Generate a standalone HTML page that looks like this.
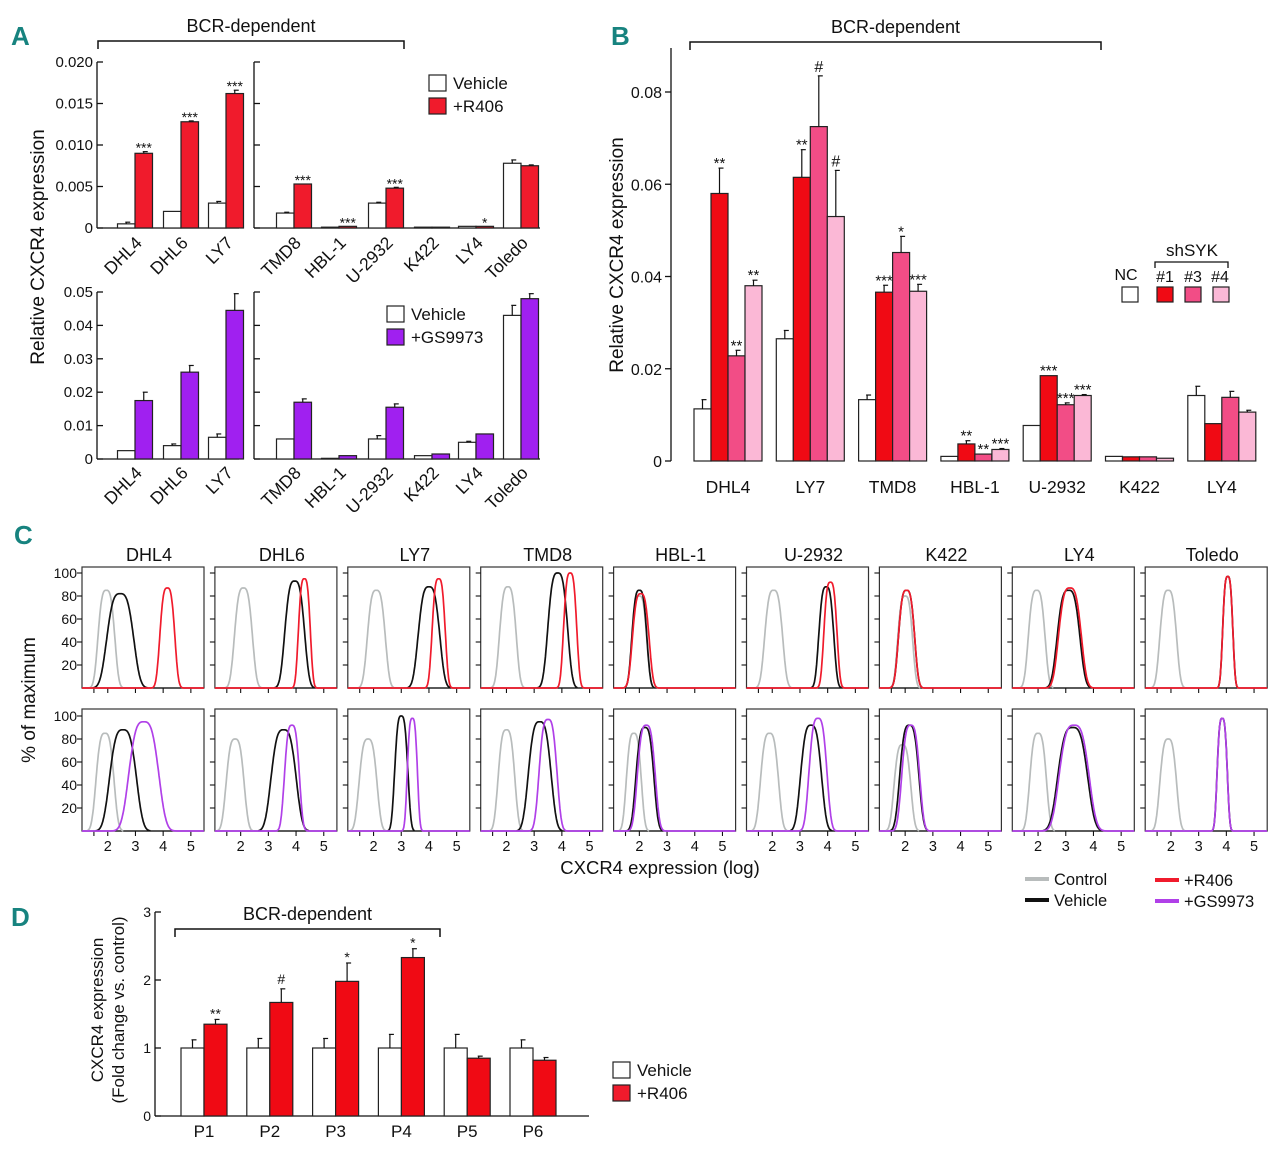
<!DOCTYPE html>
<html><head><meta charset="utf-8"><style>
html,body{margin:0;padding:0;background:#fff}
svg{display:block;font-family:"Liberation Sans",Arial,sans-serif}
</style></head><body>
<svg id="fig" width="1280" height="1153" viewBox="0 0 1280 1153" xmlns="http://www.w3.org/2000/svg">
<g id="static">
<text x="11" y="45" font-size="26" font-weight="bold" fill="#17837f">A</text>
<text x="611" y="45" font-size="26" font-weight="bold" fill="#17837f">B</text>
<text x="14" y="544" font-size="26" font-weight="bold" fill="#17837f">C</text>
<text x="11" y="926" font-size="26" font-weight="bold" fill="#17837f">D</text>
</g>
</svg>
<script>
// ---------- DATA ----------
const catsA = ['DHL4','DHL6','LY7','TMD8','HBL-1','U-2932','K422','LY4','Toledo'];
const aTopVeh = [0.0005,0.002,0.003,0.0018,0.0001,0.003,0.0001,0.0002,0.0078];
const aTopVehErr = [0.0002,0,0.0002,0.0001,0,0.0001,0,0,0.0004];
const aTopDrug = [0.009,0.0128,0.0162,0.0053,0.0002,0.0048,0.0001,0.0002,0.0075];
const aTopDrugErr = [0.0002,0.0001,0.0004,0,0,0.0001,0,0,0.0001];
const aTopStars = ['***','***','***','***','***','***','','*',''];
const aTopTicks = [0,0.005,0.010,0.015,0.020];
const aTopTickLabels = ['0','0.005','0.010','0.015','0.020'];
const aBotVeh = [0.0025,0.004,0.0065,0.006,0.0002,0.006,0.001,0.005,0.043];
const aBotVehErr = [0,0.0005,0.001,0,0,0.001,0,0.0003,0.003];
const aBotDrug = [0.0175,0.026,0.0445,0.017,0.001,0.0155,0.0015,0.0075,0.048];
const aBotDrugErr = [0.0025,0.002,0.005,0.001,0,0.001,0,0,0.0015];
const aBotTicks = [0,0.01,0.02,0.03,0.04,0.05];
const aBotTickLabels = ['0','0.01','0.02','0.03','0.04','0.05'];

const catsB = ['DHL4','LY7','TMD8','HBL-1','U-2932','K422','LY4'];
const bNC = [0.0113,0.0265,0.0133,0.001,0.0077,0.001,0.0142];
const bNCErr = [0.002,0.0018,0.001,0,0,0,0.002];
const bSh1 = [0.058,0.0615,0.0366,0.0037,0.0185,0.0009,0.0081];
const bSh1Err = [0.0055,0.006,0.0015,0.0007,0,0,0];
const bSh3 = [0.0228,0.0725,0.0452,0.0015,0.0122,0.0009,0.0138];
const bSh3Err = [0.0012,0.011,0.0035,0,0.0004,0,0.0013];
const bSh4 = [0.038,0.053,0.0368,0.0025,0.0142,0.0006,0.0106];
const bSh4Err = [0.0012,0.01,0.0015,0.0002,0.0002,0,0.0004];
const bStars1 = ['**','**','***','**','***','',''];
const bStars3 = ['**','#','*','**','***','',''];
const bStars4 = ['**','#','***','***','***','',''];
const bTicks = [0,0.02,0.04,0.06,0.08];
const bTickLabels = ['0','0.02','0.04','0.06','0.08'];

const catsC = ['DHL4','DHL6','LY7','TMD8','HBL-1','U-2932','K422','LY4','Toledo'];
// peaks: [center(log), height(%), width]
const cTopCtrl = [[1.95,85,0.28],[2.1,87,0.3],[2.1,85,0.3],[2.05,88,0.28],[2.0,80,0.25],[2.05,85,0.3],[2.0,80,0.25],[1.95,85,0.28],[1.9,85,0.28]];
const cTopVeh = [[2.45,82,0.45],[3.95,93,0.33],[4.0,88,0.36],[3.85,100,0.33],[2.0,85,0.25],[3.95,88,0.25],[2.05,85,0.27],[3.1,85,0.38],[4.05,97,0.17]];
const cTopDrug = [[4.15,87,0.25],[4.3,95,0.2],[4.35,95,0.22],[4.3,100,0.22],[2.05,82,0.28],[4.1,92,0.22],[2.05,85,0.27],[3.15,87,0.38],[4.05,97,0.17]];
const cBotCtrl = [[1.9,85,0.3],[1.8,80,0.3],[1.8,80,0.3],[2.0,88,0.28],[1.8,85,0.25],[1.9,85,0.3],[1.9,75,0.28],[2.0,85,0.28],[1.9,80,0.28]];
const cBotVeh = [[2.55,88,0.45],[3.55,88,0.42],[3.0,100,0.22],[3.2,95,0.38],[2.2,90,0.3],[3.4,92,0.35],[2.15,92,0.32],[3.25,90,0.5],[3.85,98,0.17]];
const cBotDrug = [[3.3,95,0.5],[3.85,92,0.25],[3.4,98,0.17],[3.5,97,0.3],[2.25,92,0.3],[3.65,98,0.3],[2.2,92,0.3],[3.3,92,0.5],[3.85,98,0.17]];
const cYTicks = [20,40,60,80,100];
const cXTicks = [2,3,4,5];

const catsD = ['P1','P2','P3','P4','P5','P6'];
const dVeh = [1.0,1.0,1.0,1.0,1.0,1.0];
const dVehErr = [0.12,0.14,0.14,0.2,0.2,0.12];
const dDrug = [1.35,1.67,1.98,2.33,0.85,0.82];
const dDrugErr = [0.07,0.2,0.27,0.13,0.03,0.04];
const dStars = ['**','#','*','*','',''];
const dTicks = [0,1,2,3];

// ---------- HELPERS ----------
const NS='http://www.w3.org/2000/svg';
const svg=document.getElementById('fig');
function mk(tag,attrs,parent,txt){const e=document.createElementNS(NS,tag);for(const k in attrs)e.setAttribute(k,attrs[k]);if(txt!==undefined)e.textContent=txt;(parent||svg).appendChild(e);return e;}
function line(x1,y1,x2,y2,p,w,c){return mk('line',{x1,y1,x2,y2,stroke:c||'#111','stroke-width':w||1.3},p);}
function text(x,y,s,size,anchor,p){return mk('text',{x,y,'font-size':size,'text-anchor':anchor||'middle',fill:'#111'},p,s);}
function bracket(x1,x2,y,label,p){const g=mk('g',{},p);
 mk('path',{d:`M${x1},${y+8}V${y}H${x2}V${y+8}`,fill:'none',stroke:'#111','stroke-width':1.5},g);
 text((x1+x2)/2,y-9,label,18,'middle',g);}
function bar(g,x,w,y0,y1,fill,name){const r=mk('rect',{x,y:Math.min(y0,y1),width:w,height:Math.abs(y0-y1),fill,stroke:'#222','stroke-width':1.2},g);
 return r;}
function err(g,xc,ytop,yerr){if(ytop-yerr<0.8)return;line(xc,ytop,xc,yerr,g,1.2);line(xc-1,yerr,xc+4,yerr,g,1.2);}

// ---------- PANEL A ----------
const RED='#f01b2c', PURP='#a020f0';
function panelA(yBase,yTop,maxV,ticks,tickLbls,veh,vehE,drug,drugE,stars,drugCol,name,labY){
 const g=mk('g',{});
 const ys=v=>yBase-(v/maxV)*(yBase-yTop);
 const centers=[135,181,226,294,339,386,432,476,521];
 [97,254].forEach((ax,i)=>{line(ax,yTop,ax,yBase,g,1.3);
  ticks.forEach((t,j)=>{line(ax,ys(t),ax+6,ys(t),g,1.3);if(i===0){const tl=text(ax-4,ys(t)+5,tickLbls[j],15,'end',g);}});});
 line(97,yBase,239,yBase,g,1.3);line(254,yBase,540,yBase,g,1.3);
 catsA.forEach((c,i)=>{const cx=centers[i],w=17.5;
  bar(g,cx-w,w,ys(0),ys(veh[i]),'#fff','bar-vehicle-'+c);
  bar(g,cx,w,ys(0),ys(drug[i]),drugCol,'bar-drug-'+c);
  err(g,cx-w/2,ys(veh[i]),ys(veh[i]+vehE[i]));
  err(g,cx+w/2,ys(drug[i]),ys(drug[i]+drugE[i]));
  if(stars&&stars[i]){text(cx+w/2,ys(drug[i]+drugE[i])+1,stars[i],14,'middle',g);}
  const t=mk('text',{x:cx+8,y:labY,'font-size':17.5,'text-anchor':'end',fill:'#111',transform:`rotate(-45 ${cx+8} ${labY})`},g,c);
  });
}
bracket(98,404,41,'BCR-dependent');
panelA(228,62,0.02,aTopTicks,aTopTickLabels,aTopVeh,aTopVehErr,aTopDrug,aTopDrugErr,aTopStars,RED,'panel-a-top-chart',244);
panelA(459,292,0.05,aBotTicks,aBotTickLabels,aBotVeh,aBotVehErr,aBotDrug,aBotDrugErr,null,PURP,'panel-a-bottom-chart',474);
(function(){const t=mk('text',{x:44,y:247,'font-size':19,'text-anchor':'middle',fill:'#111',transform:'rotate(-90 44 247)'},svg,'Relative CXCR4 expression');})();
function legend(x,y,items){items.forEach((it,i)=>{const g=mk('g',{});
 mk('rect',{x,y:y+i*23,width:17,height:16,fill:it[1],stroke:'#222','stroke-width':1.2},g);text(x+24,y+i*23+14,it[0],17,'start',g);});}
legend(429,75,[['Vehicle','#fff'],['+R406',RED]]);
legend(387,306,[['Vehicle','#fff'],['+GS9973',PURP]]);

// ---------- PANEL B ----------
(function(){const g=mk('g',{});
 const yB=461,yT=92,maxV=0.08,ys=v=>yB-(v/maxV)*(yB-yT);
 line(671,48,671,yB,g,1.3);
 bTicks.forEach((t,j)=>{line(665,ys(t),671,ys(t),g,1.3);const tl=text(662,ys(t)+6,bTickLabels[j],16,'end',g);});
 const cols=['#fff','#f00a14','#f24d86','#fbb8d6'];const series=[bNC,bSh1,bSh3,bSh4],errs=[bNCErr,bSh1Err,bSh3Err,bSh4Err],stars=[null,bStars1,bStars3,bStars4];
 catsB.forEach((c,i)=>{const x0=694+i*82.3,w=17;
  series.forEach((s,k)=>{const x=x0+k*w;bar(g,x,w,ys(0),ys(s[i]),cols[k],'bar-'+['nc','shsyk1','shsyk3','shsyk4'][k]+'-'+c);
   err(g,x+w/2,ys(s[i]),ys(s[i]+errs[k][i]));
   if(stars[k]&&stars[k][i])text(x+w/2,ys(s[i]+errs[k][i])-(stars[k][i]==='#'?4:0),stars[k][i],stars[k][i]==='#'?16:15,'middle',g);});
  const t=text(x0+2*w,493,c,17.5,'middle',g);});
})();
bracket(690,1101,42,'BCR-dependent');
(function(){const t=mk('text',{x:623,y:255,'font-size':19,'text-anchor':'middle',fill:'#111',transform:'rotate(-90 623 255)'},svg,'Relative CXCR4 expression');
 const g=mk('g',{});
 text(1192,256,'shSYK',17,'middle',g);mk('path',{d:'M1155,268V262H1228V268',fill:'none',stroke:'#111','stroke-width':1.3},g);
 text(1126,280,'NC',16,'middle',g);[['#1',1165],['#3',1193],['#4',1220]].forEach(a=>text(a[1],282,a[0],16,'middle',g));
 [['#fff',1122],['#f00a14',1157],['#f24d86',1185],['#fbb8d6',1213]].forEach(a=>mk('rect',{x:a[1],y:287,width:16,height:15,fill:a[0],stroke:'#222','stroke-width':1.2},g));})();

// ---------- PANEL C ----------
function curve(peak,left,yb,col,hasBase){const [c,h,w]=peak;const xs=v=>left+(v-1.07)*27.7;let d='';
 const v0=hasBase?1.07:c-2.2*w, v1=hasBase?5.48:c+2.2*w;
 for(let v=v0;v<=v1+1e-6;v+=0.02){const z=(v-c)/w;let f=Math.exp(-0.5*Math.pow(Math.abs(z),3.2));const y=yb-(h*f)*1.15;d+=(d?'L':'M')+xs(v).toFixed(1)+','+y.toFixed(1);}
 return mk('path',{d,fill:'none',stroke:col,'stroke-width':1.7,'stroke-linejoin':'round'});}
(function(){const t=text(660,874,'CXCR4 expression (log)',18.5,'middle');})();
(function(){const t=mk('text',{x:35,y:700,'font-size':19,'text-anchor':'middle',fill:'#111',transform:'rotate(-90 35 700)'},svg,'% of maximum');})();
catsC.forEach((c,i)=>{const left=82+i*132.9,W=122;
 const h=text(left+W/2+6,561,c,18,'middle');
 [[567,688,cTopCtrl,cTopVeh,cTopDrug,RED],[709,831,cBotCtrl,cBotVeh,cBotDrug,'#b040e8']].forEach((r,ri)=>{
  const [top,yb,ctl,veh,drug,dc]=r;const g=mk('g',{});
  mk('rect',{x:left,y:top,width:W,height:yb-top,fill:'#fff',stroke:'#333','stroke-width':1.2},g);
  cYTicks.forEach(t=>{line(left-5,yb-t*1.15,left,yb-t*1.15,g,1.1);if(i===0){text(left-5,yb-t*1.15+5,String(t),14,'end',g);}});
  line(left,yb,left+W,yb,g,1.2);
  [1.5].concat(cXTicks).forEach(v=>line(left+(v-1.07)*27.7,yb,left+(v-1.07)*27.7,yb+5,g,1.1));
  if(ri===1)cXTicks.forEach(v=>text(left+(v-1.07)*27.7,yb+20,String(v),14.5,'middle',g));
  g.appendChild(curve(ctl[i],left,yb,'#b8bcbc',false));
  g.appendChild(curve(veh[i],left,yb,'#111',false));
  g.appendChild(curve(drug[i],left,yb,dc,true));
 });});
(function(){const g=mk('g',{});
 [['Control','#b8bcbc',1025,879],['Vehicle','#111',1025,900],['+R406',RED,1155,880],['+GS9973','#b040e8',1155,901]].forEach(a=>{
  line(a[2],a[3],a[2]+24,a[3],g,4,a[1]);text(a[2]+29,a[3]+6,a[0],16.5,'start',g);});})();

// ---------- PANEL D ----------
(function(){const g=mk('g',{});
 const yB=1116,yT=912,ys=v=>yB-(v/3)*(yB-yT);
 line(155,yT,155,yB,g,1.3);line(155,yB,589,yB,g,1.3);
 dTicks.forEach(t=>{line(155,ys(t),161,ys(t),g,1.3);text(151,ys(t)+5,String(t),14,'end',g);});
 catsD.forEach((c,i)=>{const cx=204+i*65.8,w=23;
  bar(g,cx-w,w,ys(0),ys(dVeh[i]),'#fff','bar-vehicle-'+c);bar(g,cx,w,ys(0),ys(dDrug[i]),'#f00a14','bar-r406-'+c);
  err(g,cx-w/2,ys(dVeh[i]),ys(dVeh[i]+dVehErr[i]));err(g,cx+w/2,ys(dDrug[i]),ys(dDrug[i]+dDrugErr[i]));
  if(dStars[i])text(cx+w/2,ys(dDrug[i]+dDrugErr[i])-(dStars[i]==='#'?5:1),dStars[i],dStars[i]==='#'?14:14,'middle',g);
  const t=text(cx,1137,c,17,'middle',g);});
})();
bracket(175,440,929,'BCR-dependent');
(function(){const t=mk('text',{x:103,y:1010,'font-size':17,'text-anchor':'middle',fill:'#111',transform:'rotate(-90 103 1010)'},svg,'CXCR4 expression');
 const t2=mk('text',{x:124,y:1010,'font-size':17,'text-anchor':'middle',fill:'#111',transform:'rotate(-90 124 1010)'},svg,'(Fold change vs. control)');})();
legend(613,1062,[['Vehicle','#fff'],['+R406','#f01b2c']]);
</script>
</body></html>
